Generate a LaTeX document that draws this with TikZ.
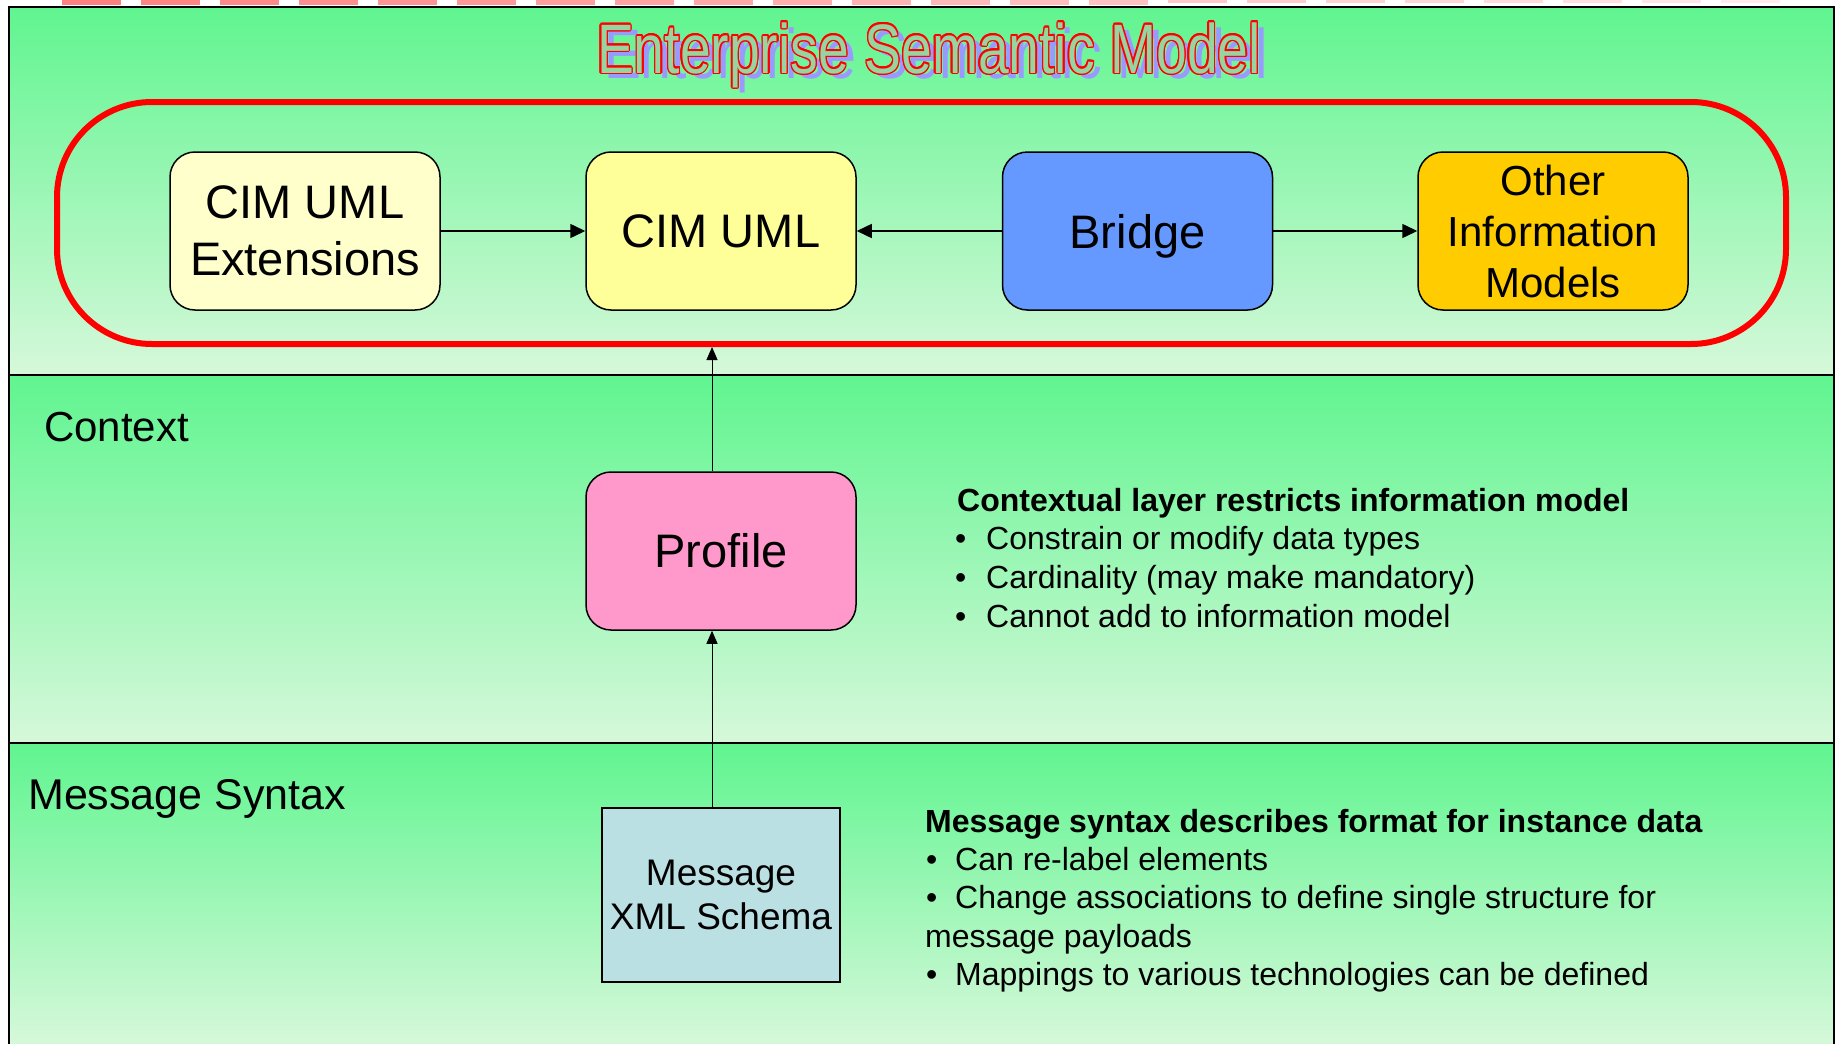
\documentclass[tikz,border=0pt]{standalone}
\usepackage{fontspec}
\setmainfont{Liberation Sans}
\usepackage[copies]{contour}
\usetikzlibrary{arrows.meta}
\definecolor{bandtop}{RGB}{96,245,144}
\definecolor{bandbot}{RGB}{214,248,218}
\definecolor{extfill}{RGB}{255,255,204}
\definecolor{cimfill}{RGB}{255,255,153}
\definecolor{bridgefill}{RGB}{102,153,255}
\definecolor{otherfill}{RGB}{255,204,0}
\definecolor{profilefill}{RGB}{255,153,204}
\definecolor{msgfill}{RGB}{187,224,227}
\definecolor{titlefill}{RGB}{150,212,160}
\definecolor{shadowblue}{RGB}{153,153,255}
\contourlength{1.6pt}
\begin{document}
\begin{tikzpicture}[x=1pt,y=-1pt,
  box/.style={draw=black, line width=1.5pt, rounded corners=25pt, minimum width=270pt, minimum height=158pt, inner sep=0pt, align=center},
  bigtxt/.style={font=\fontsize{47}{57}\selectfont},
  harrow/.style={line width=1.5pt, -{Triangle[length=15pt,width=14pt]}},
  varrow/.style={line width=1pt, -{Triangle[length=13pt,width=11pt]}},
  seclabel/.style={anchor=base west, inner sep=0pt, font=\fontsize{43}{50}\selectfont},
  bodytxt/.style={anchor=base west, inner sep=0pt, font=\fontsize{32}{38}\selectfont},
  headtxt/.style={anchor=base west, inner sep=0pt, font=\fontsize{32}{38}\selectfont\bfseries},
  titletxt/.style={anchor=base, inner sep=0pt, font=\fontsize{70}{84}\selectfont}
]
\useasboundingbox (0,0) rectangle (1837,1044);
\clip (0,0) rectangle (1837,1044);
% pink strip at top
\foreach \i in {0,...,21} {
  \pgfmathsetmacro\p{50-42*\i/21}
  \pgfmathsetmacro\xx{62+79*\i}
  \pgfmathsetmacro\hh{\i<14 ? 4.7 : 2.7}
  \fill[red!\p] (\xx,0) rectangle (\xx+59,\hh);
}
% bands
\shade[top color=bandtop, bottom color=bandbot] (9,7) rectangle (1834,375);
\shade[top color=bandtop, bottom color=bandbot] (9,375) rectangle (1834,743);
\shade[top color=bandtop, bottom color=bandbot] (9,743) rectangle (1834,1044);
\draw[line width=2.5pt] (9,1050) -- (9,7) -- (1834,7) -- (1834,1050);
\draw[line width=2pt] (9,375) -- (1834,375);
\draw[line width=2pt] (9,743) -- (1834,743);
% title
\node[titletxt, text=shadowblue] (titleshadow) at (936,78) {\scalebox{0.79}[1]{Enterprise Semantic Model}};
\node[titletxt] (title) at (929,73) {\scalebox{0.79}[1]{\contour{red}{\textcolor{titlefill}{Enterprise Semantic Model}}}};
% enterprise frame
\node[draw=red, line width=6pt, rounded corners=95pt, minimum width=1729pt, minimum height=242pt, inner sep=0pt] (esm) at (921.5,223) {};
% boxes
\node[box, bigtxt, fill=extfill] (ext) at (305,231) {CIM UML\\Extensions};
\node[box, bigtxt, fill=cimfill] (cim) at (721,231) {CIM UML};
\node[box, bigtxt, fill=bridgefill, text depth=0pt] (bridge) at (1137.5,231) {Bridge};
\node[box, fill=otherfill, font=\fontsize{42}{51}\selectfont] (other) at (1553,231) {Other\\Information\\Models};
\node[box, bigtxt, fill=profilefill] (profile) at (721,551) {Profile};
\node[draw=black, line width=2pt, fill=msgfill, minimum width=238pt, minimum height=174pt, inner sep=0pt, align=center, font=\fontsize{37}{44}\selectfont] (msg) at (721,895) {Message\\XML Schema};
% connectors
\draw[harrow] (ext) -- (cim);
\draw[harrow] (bridge) -- (cim);
\draw[harrow] (bridge) -- (other);
\coordinate (ax) at (712,0);
\draw[varrow] (profile.north -| ax) -- (esm.south -| ax);
\draw[varrow] (msg.north -| ax) -- (profile.south -| ax);
% section labels
\node[seclabel, font=\fontsize{42}{50}\selectfont] (ctxlabel) at (44,441) {Context};
\node[seclabel] (msglabel) at (28,809) {Message Syntax};
% context text
\node[headtxt] (ctxh) at (957,511) {Contextual layer restricts information model};
\node[bodytxt] (ctxb1) at (955,549) {•};
\node[bodytxt] (ctx1) at (986,549) {Constrain or modify data types};
\node[bodytxt] (ctxb2) at (955,588) {•};
\node[bodytxt] (ctx2) at (986,588) {Cardinality (may make mandatory)};
\node[bodytxt] (ctxb3) at (955,627) {•};
\node[bodytxt] (ctx3) at (986,627) {Cannot add to information model};
% message text
\node[headtxt] (msgh) at (925,832) {Message syntax describes format for instance data};
\node[bodytxt] (msgb1) at (926,870) {•};
\node[bodytxt] (msg1) at (955,870) {Can re-label elements};
\node[bodytxt] (msgb2) at (926,908) {•};
\node[bodytxt] (msg2) at (955,908) {Change associations to define single structure for};
\node[bodytxt] (msg2b) at (925,947) {message payloads};
\node[bodytxt] (msgb3) at (926,985) {•};
\node[bodytxt] (msg3) at (955,985) {Mappings to various technologies can be defined};
\end{tikzpicture}
\end{document}
